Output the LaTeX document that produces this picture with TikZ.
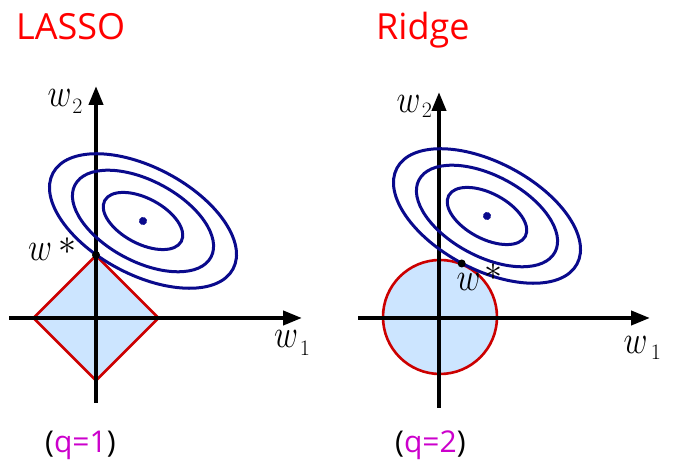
\RequirePackage{fix-cm}
\documentclass[tikz,border=0pt]{standalone}
\usepackage[no-math]{fontspec}
\setmainfont{Open Sans}
\usepackage{graphicx}
\usetikzlibrary{arrows.meta}
\definecolor{ellblue}{RGB}{10,10,140}
\definecolor{redline}{RGB}{204,0,0}
\definecolor{regfill}{RGB}{204,229,255}
\definecolor{titlered}{RGB}{255,0,0}
\definecolor{qmag}{RGB}{204,0,204}
\begin{document}
\begin{tikzpicture}[x=1pt,y=1pt,
  axis/.style={line width=4pt,-{Triangle[length=19pt,width=14pt]}},
  contour/.style={draw=ellblue,line width=3pt},
  region/.style={draw=redline,fill=regfill,line width=2.6pt,line join=miter},
  titletext/.style={text=titlered,font=\fontsize{36}{40}\selectfont,inner sep=0pt,anchor=base west},
  qtext/.style={font=\fontsize{30}{34}\selectfont,inner sep=0pt,anchor=base west},
  wvar/.style={inner sep=0pt,font=\fontsize{33}{36}\selectfont},
  wsub/.style={inner sep=0pt,font=\fontsize{22}{24}\selectfont},
  wstar/.style={inner sep=0pt,font=\fontsize{36}{40}\selectfont},
  soldot/.style={circle,fill=black,inner sep=0pt,minimum size=8pt}]
\useasboundingbox (0,0) rectangle (673,462);

% ---------------- LASSO ----------------
\coordinate (o1) at (96,144);
\coordinate (y1b) at (96,59);
\coordinate (y1t) at (96,376);
\coordinate (x1l) at (9,144);
\coordinate (x1r) at (302,144);
\coordinate (d1t) at (96,206.5);
\coordinate (d1r) at (158.5,144);
\coordinate (d1b) at (96,81.5);
\coordinate (d1l) at (33.5,144);
\draw[region] (d1t) -- (d1r) -- (d1b) -- (d1l) -- cycle;
\draw[axis] (x1l) -- (x1r);
\draw[axis] (y1b) -- (y1t);
\begin{scope}[shift={(143,241)},rotate=-28]
  \draw[contour] (0,0) ellipse [x radius=102, y radius=53.5];
  \draw[contour] (0,0) ellipse [x radius=77, y radius=40.4];
  \draw[contour] (0,0) ellipse [x radius=43.4, y radius=22.7];
  \fill[ellblue] (0,0) circle (4);
\end{scope}
\node[soldot] (ws1) at (96,207) {};
\node[wvar] (ws1w) at (40,210.5) {\scalebox{1}[1.2]{$w$}};
\node[wstar] (ws1s) at (67.5,216) {$\ast$};
\node[wvar] (w2l) at (59.5,364.5) {\scalebox{1}[1.2]{$w$}};
\node[wsub] (w2ls) at (77.5,355.5) {$2$};
\node[wvar] (w1l) at (286,123) {\scalebox{1}[1.2]{$w$}};
\node[wsub] (w1ls) at (305,113.5) {$1$};
\node[titletext] (lasso) at (16,422) {LASSO};
\node[qtext] (q1) at (45,9) {(\textcolor{qmag}{q=1})};

% ---------------- Ridge ----------------
\coordinate (o2) at (439,144);
\coordinate (y2b) at (439,54);
\coordinate (y2t) at (439,370);
\coordinate (x2l) at (358,144);
\coordinate (x2r) at (650,144);
\draw[region] (440,145) circle (57);
\draw[axis] (x2l) -- (x2r);
\draw[axis] (y2b) -- (y2t);
\begin{scope}[shift={(487,246)},rotate=-28]
  \draw[contour] (0,0) ellipse [x radius=102, y radius=53.5];
  \draw[contour] (0,0) ellipse [x radius=77, y radius=40.4];
  \draw[contour] (0,0) ellipse [x radius=43.4, y radius=22.7];
  \fill[ellblue] (0,0) circle (4);
\end{scope}
\node[soldot] (ws2) at (461.7,198.5) {};
\node[wvar] (ws2w) at (468.5,180.5) {\scalebox{1}[1.2]{$w$}};
\node[wstar] (ws2s) at (493.5,189.5) {$\ast$};
\node[wvar] (w2r) at (408.5,358.5) {\scalebox{1}[1.2]{$w$}};
\node[wsub] (w2rs) at (427,352) {$2$};
\node[wvar] (w1r) at (635.5,117) {\scalebox{1}[1.2]{$w$}};
\node[wsub] (w1rs) at (656,109.5) {$1$};
\node[titletext] (ridge) at (376,422) {Ridge};
\node[qtext] (q2) at (395,9) {(\textcolor{qmag}{q=2})};
\end{tikzpicture}
\end{document}
